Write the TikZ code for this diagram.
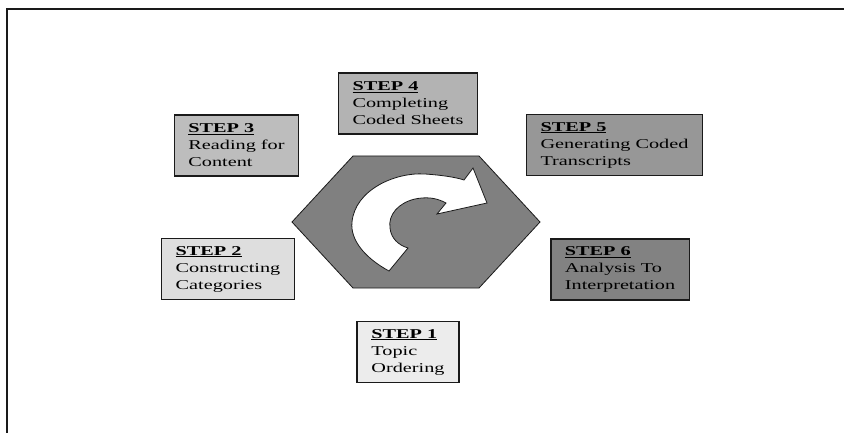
\documentclass[tikz,border=0pt]{standalone}
\usepackage{fontspec}
\setmainfont{Liberation Serif}[FakeStretch=1.5]
\usetikzlibrary{positioning}
\definecolor{ink}{HTML}{1A1A1A}
\definecolor{hexfill}{HTML}{808080}
\definecolor{grayA}{HTML}{ECECEC}
\definecolor{grayB}{HTML}{DEDEDE}
\definecolor{grayC}{HTML}{BDBDBD}
\definecolor{grayD}{HTML}{B3B3B3}
\definecolor{grayE}{HTML}{979797}
\definecolor{grayF}{HTML}{828282}
\newcommand{\stepno}[1]{\underline{\textbf{STEP #1}}}
\tikzset{
  stepbox/.style={draw=ink, fill=#1, line width=1.2pt, align=left,
                  font=\fontsize{13.5}{17}\selectfont, inner xsep=14pt, inner ysep=0pt,
                  minimum height=61pt},
  stepbox/.default=grayA,
  hexline/.style={draw=ink, fill=hexfill, line width=0.8pt},
  turnarr/.style={draw=ink, fill=white, line width=0.8pt},
}
\begin{document}
\begin{tikzpicture}[x=1pt, y=-1pt]
        \useasboundingbox (0,0) rectangle (844,433);
        % frame
        \draw[ink, line width=1.5pt] (7,433) -- (7,9) -- (844,9);
        % centre hexagon with the turning arrow
        \draw[hexline] (292,222) -- (353,156) -- (479,156) -- (540,222) -- (479,288) -- (353,288) -- cycle;
        \draw[turnarr] (389,271) .. controls (365,258) and (350,240) .. (352,222)
              .. controls (355,190) and (395,172) .. (425,174)
              .. controls (440,175) and (455,177) .. (464,180)
              -- (473,168) -- (487,203) -- (437,214) -- (446,203)
              .. controls (435,197) and (425,197) .. (415,199)
              .. controls (398,203) and (388,215) .. (390,228)
              .. controls (391,238) and (398,245) .. (408,248) -- cycle;
        % steps
        \node[stepbox=grayA, minimum width=102pt] (s1) at (408,352) {\stepno{1}\\Topic\\Ordering};
        \node[stepbox=grayB, minimum width=132pt] (s2) at (228,269) {\stepno{2}\\Constructing\\Categories};
        \node[stepbox=grayC, minimum width=123pt] (s3) at (236.5,145.5) {\stepno{3}\\Reading for\\Content};
        \node[stepbox=grayD, minimum width=138pt] (s4) at (408,103.5) {\stepno{4}\\Completing\\Coded Sheets};
        \node[stepbox=grayE, minimum width=175pt] (s5) at (614.5,145) {\stepno{5}\\Generating Coded\\Transcripts};
        \node[stepbox=grayF, minimum width=138pt] (s6) at (620,269.5) {\stepno{6}\\Analysis To\\Interpretation};
      \end{tikzpicture}
\end{document}
